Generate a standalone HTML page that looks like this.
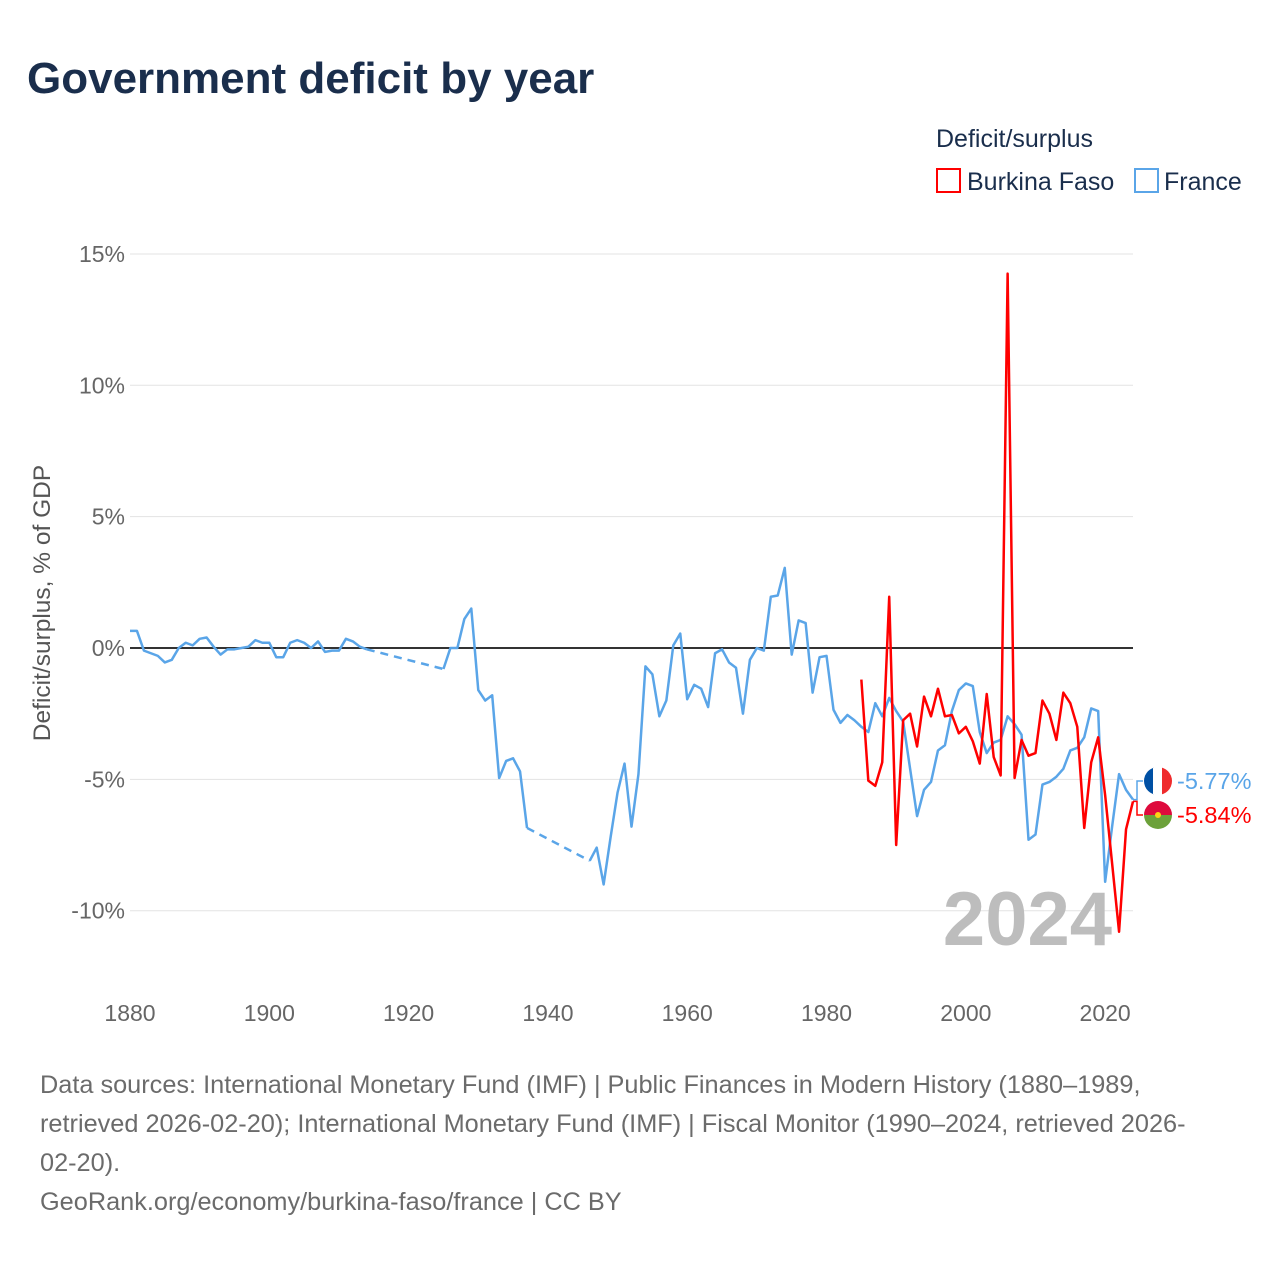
<!DOCTYPE html>
<html><head><meta charset="utf-8"><style>
body{margin:0;background:#fff;font-family:"Liberation Sans",sans-serif}
svg text{font-family:"Liberation Sans",sans-serif}
</style></head><body>
<svg id="chart" width="1280" height="1280" xmlns="http://www.w3.org/2000/svg">
<rect width="1280" height="1280" fill="#fff"/>
<text x="27" y="93" font-size="44" font-weight="bold" fill="#1a2e4c">Government deficit by year</text>
<text x="936" y="147" font-size="25" fill="#1a2e4c">Deficit/surplus</text>
<g>
<rect x="937" y="169" width="23" height="23" fill="none" stroke="#f00" stroke-width="2"/>
<text x="967" y="190" font-size="25" fill="#1a2e4c">Burkina Faso</text></g>
<g>
<rect x="1135" y="169" width="23" height="23" fill="none" stroke="#5aa5e8" stroke-width="2"/>
<text x="1164" y="190" font-size="25" fill="#1a2e4c">France</text></g>
<g id="grid"></g><g id="axes"></g><g id="series"></g>
<text transform="translate(50,603) rotate(-90)" text-anchor="middle" font-size="24.5" fill="#555">Deficit/surplus, % of GDP</text>
<text x="1112" y="945" text-anchor="end" font-size="76" font-weight="bold" fill="#bdbdbd">2024</text>
<g font-size="25.3" fill="#6b6b6b">
<text x="40" y="1093">Data sources: International Monetary Fund (IMF) | Public Finances in Modern History (1880–1989,</text>
<text x="40" y="1132">retrieved 2026-02-20); International Monetary Fund (IMF) | Fiscal Monitor (1990–2024, retrieved 2026-</text>
<text x="40" y="1171">02-20).</text>
<text x="40" y="1210">GeoRank.org/economy/burkina-faso/france | CC BY</text>
</g>
</svg>
<script>
const yTicks=[15,10,5,0,-5,-10];
const yTickLabels=["15%","10%","5%","0%","-5%","-10%"];
const xTicks=[1880,1900,1920,1940,1960,1980,2000,2020];
const franceYears=[1880,1881,1882,1883,1884,1885,1886,1887,1888,1889,1890,1891,1892,1893,1894,1895,1896,1897,1898,1899,1900,1901,1902,1903,1904,1905,1906,1907,1908,1909,1910,1911,1912,1913,1914,1925,1926,1927,1928,1929,1930,1931,1932,1933,1934,1935,1936,1937,1946,1947,1948,1949,1950,1951,1952,1953,1954,1955,1956,1957,1958,1959,1960,1961,1962,1963,1964,1965,1966,1967,1968,1969,1970,1971,1972,1973,1974,1975,1976,1977,1978,1979,1980,1981,1982,1983,1984,1985,1986,1987,1988,1989,1990,1991,1992,1993,1994,1995,1996,1997,1998,1999,2000,2001,2002,2003,2004,2005,2006,2007,2008,2009,2010,2011,2012,2013,2014,2015,2016,2017,2018,2019,2020,2021,2022,2023,2024];
const franceValues=[0.65,0.65,-0.1,-0.2,-0.3,-0.55,-0.45,0,0.2,0.1,0.35,0.4,0.05,-0.25,-0.05,-0.05,0,0.05,0.3,0.2,0.2,-0.35,-0.35,0.2,0.3,0.2,0,0.25,-0.15,-0.1,-0.1,0.35,0.25,0.05,-0.05,-0.8,0,0,1.1,1.5,-1.6,-2.0,-1.8,-4.95,-4.3,-4.2,-4.7,-6.85,-8.1,-7.6,-9.0,-7.2,-5.5,-4.4,-6.8,-4.8,-0.7,-1.0,-2.6,-2.0,0.1,0.55,-1.95,-1.4,-1.55,-2.25,-0.2,-0.05,-0.55,-0.75,-2.5,-0.45,0,-0.1,1.95,2.0,3.05,-0.25,1.05,0.95,-1.7,-0.35,-0.3,-2.35,-2.85,-2.55,-2.75,-3.0,-3.2,-2.1,-2.6,-1.9,-2.4,-2.8,-4.6,-6.4,-5.4,-5.1,-3.9,-3.7,-2.4,-1.6,-1.35,-1.45,-3.2,-4.0,-3.6,-3.5,-2.6,-2.9,-3.3,-7.3,-7.1,-5.2,-5.1,-4.9,-4.6,-3.9,-3.8,-3.4,-2.3,-2.4,-8.9,-6.8,-4.8,-5.4,-5.77];
const bfYears=[1985,1986,1987,1988,1989,1990,1991,1992,1993,1994,1995,1996,1997,1998,1999,2000,2001,2002,2003,2004,2005,2006,2007,2008,2009,2010,2011,2012,2013,2014,2015,2016,2017,2018,2019,2020,2021,2022,2023,2024];
const bfValues=[-1.2,-5.05,-5.25,-4.35,1.95,-7.5,-2.75,-2.5,-3.75,-1.85,-2.6,-1.55,-2.6,-2.55,-3.25,-3.0,-3.55,-4.4,-1.75,-4.15,-4.85,14.25,-4.95,-3.5,-4.1,-4.0,-2.0,-2.5,-3.5,-1.7,-2.1,-3.0,-6.85,-4.35,-3.4,-5.6,-8.2,-10.8,-6.9,-5.84];
const X0=130,X1=1133,Y0=648,PXPER=26.27;
const xs=y=>X0+(y-1880)*(X1-X0)/144;
const ys=v=>Y0-v*PXPER;
const NS="http://www.w3.org/2000/svg";
function mk(tag,attrs,parent){const e=document.createElementNS(NS,tag);for(const k in attrs)e.setAttribute(k,attrs[k]);parent.appendChild(e);return e;}
const grid=document.getElementById('grid'),axes=document.getElementById('axes'),series=document.getElementById('series');
yTicks.forEach((t,i)=>{
 const l=mk('line',{x1:X0,x2:X1,y1:ys(t),y2:ys(t),stroke:t===0?'#333':'#e3e3e3','stroke-width':t===0?2:1},grid);
 
 
 const tx=mk('text',{x:125,y:ys(t)+8,'text-anchor':'end','font-size':23,fill:'#666'},axes);
 tx.textContent=yTickLabels[i];
 
 
});
xTicks.forEach(t=>{
 const tx=mk('text',{x:xs(t),y:1021,'text-anchor':'middle','font-size':23,fill:'#666'},axes);
 tx.textContent=t;
 
 
});
function drawSeries(years,vals,color,name){
 const g=mk('g',{},series);
 
 
 let d='';
 for(let i=0;i<years.length;i++){
  if(i>0&&years[i]-years[i-1]>1){
   const s=mk('line',{x1:xs(years[i-1]),y1:ys(vals[i-1]),x2:xs(years[i]),y2:ys(vals[i]),stroke:color,'stroke-width':2.5,'stroke-dasharray':'8,6'},g);
   
   
   d+='M'+xs(years[i])+','+ys(vals[i]);
  } else d+=(i===0?'M':'L')+xs(years[i])+','+ys(vals[i]);
 }
 const p=mk('path',{d:d,fill:'none',stroke:color,'stroke-width':2.5,'stroke-linejoin':'round'},g);
 
 
}
drawSeries(franceYears,franceValues,'#5aa5e8','france-line');
drawSeries(bfYears,bfValues,'#ff0000','burkina-faso-line');
const fv=franceValues[franceValues.length-1],bv=bfValues[bfValues.length-1];
const fy=ys(fv),by=ys(bv),fly=781,bly=815;
const c1=mk('polyline',{points:`${X1},${fy} ${X1+4},${fy} ${X1+4},${fly} ${X1+10},${fly}`,fill:'none',stroke:'#5aa5e8','stroke-width':1.5},series);


const c2=mk('polyline',{points:`${X1},${by} ${X1+4},${by} ${X1+4},${bly} ${X1+10},${bly}`,fill:'none',stroke:'#f00','stroke-width':1.5},series);


const defs=mk('defs',{},series);
const cp1=mk('clipPath',{id:'cf'},defs);mk('circle',{cx:1158,cy:fly,r:14},cp1);
const cp2=mk('clipPath',{id:'cb'},defs);mk('circle',{cx:1158,cy:bly,r:14},cp2);
const ff=mk('g',{'clip-path':'url(#cf)'},series);


mk('rect',{x:1144,y:fly-14,width:10,height:28,fill:'#0050a4'},ff);
mk('rect',{x:1153,y:fly-14,width:10,height:28,fill:'#fff'},ff);
mk('rect',{x:1162,y:fly-14,width:10,height:28,fill:'#ef2b2d'},ff);
const bf=mk('g',{'clip-path':'url(#cb)'},series);


mk('rect',{x:1144,y:bly-14,width:28,height:14,fill:'#de0a3c'},bf);
mk('rect',{x:1144,y:bly,width:28,height:14,fill:'#6ca13a'},bf);
mk('circle',{cx:1158,cy:bly,r:3,fill:'#fcd116'},bf);
const t1=mk('text',{x:1177,y:fly+8,'font-size':23.5,fill:'#5aa5e8'},series);
t1.textContent=fv.toFixed(2)+'%';


const t2=mk('text',{x:1177,y:bly+8,'font-size':23.5,fill:'#f00'},series);
t2.textContent=bv.toFixed(2)+'%';


</script>
</body></html>
